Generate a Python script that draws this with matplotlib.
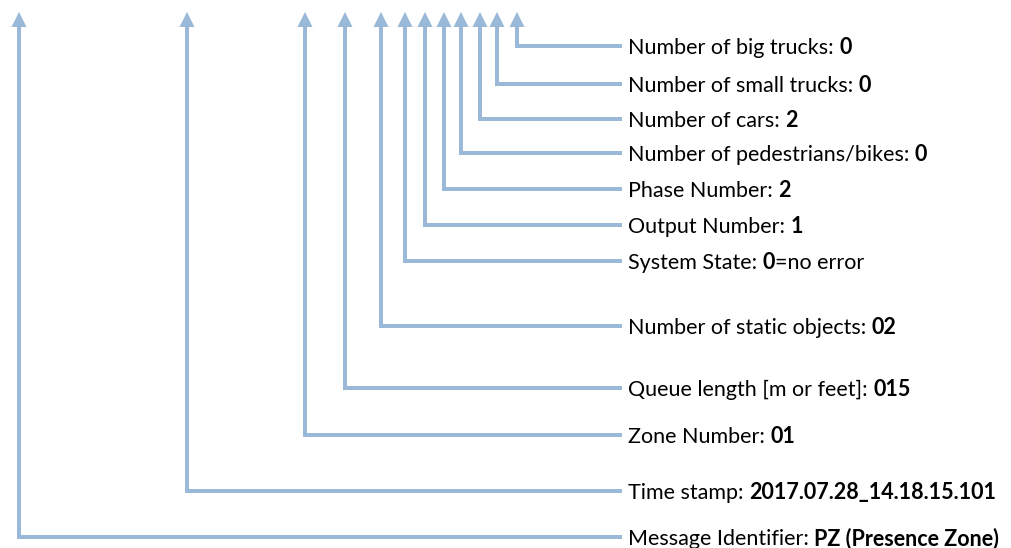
import matplotlib
matplotlib.use('Agg')
import matplotlib.pyplot as plt

# message fields, from the last one (top) to the first one (bottom)
labels = ['Number of big trucks: ', 'Number of small trucks: ', 'Number of cars: ',
          'Number of pedestrians/bikes: ', 'Phase Number: ', 'Output Number: ',
          'System State: ', 'Number of static objects: ', 'Queue length [m or feet]: ',
          'Zone Number: ', 'Time stamp: ', 'Message Identifier: ']
values = ['0', '0', '2', '0', '2', '1', '0', '02', '015', '01',
          '2017.07.28_14.18.15.101', 'PZ (Presence Zone)']
suffixes = ['', '', '', '', '', '', '=no error', '', '', '', '', '']

# layout (pixels)
arrow_x = [517, 497, 480, 461, 444, 425, 405, 381, 345, 305, 187, 19]
line_y = [46, 84, 119, 153, 189, 225, 261, 326, 388, 435, 491, 537]

color = '#9ab8d7'
tip_y = 12
head_len = 15
head_w = 15
line_end = 622
lw = 4 * 72 / 100

fig = plt.figure(figsize=(10.11, 5.48), dpi=100)
ax = fig.add_axes([0, 0, 1, 1])
ax.set_xlim(0, 1011)
ax.set_ylim(548, 0)
ax.axis('off')

plt.rcParams['font.family'] = ['Lato', 'DejaVu Sans']
fs = 15.5

renderer = fig.canvas.get_renderer()
inv = ax.transData.inverted()


def put(x, y, s, weight):
    t = ax.text(x, y, s, fontsize=fs, fontweight=weight, va='baseline', ha='left', color='black')
    ext = t.get_window_extent(renderer=renderer)
    return inv.transform((ext.x1, ext.y0))[0]


for x, y, lab, val, suf in zip(arrow_x, line_y, labels, values, suffixes):
    ax.plot([line_end, x, x], [y, y, tip_y + head_len - 1], color=color, lw=lw,
            solid_joinstyle='miter', solid_capstyle='butt')
    ax.fill([x - head_w / 2, x, x + head_w / 2], [tip_y + head_len, tip_y, tip_y + head_len],
            color=color, lw=0)

    base = y + 8
    nx = put(line_end + 6, base, lab, 'normal')
    nx = put(nx, base, val, 'bold')
    if suf:
        put(nx, base, suf, 'normal')

fig.savefig('out.png', dpi=100)
